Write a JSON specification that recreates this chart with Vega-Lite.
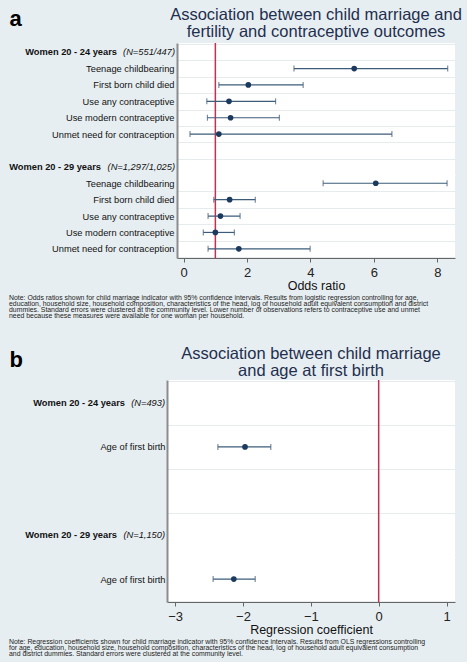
{
  "$schema": "https://vega.github.io/schema/vega-lite/v6.json",
  "background": "#e7eef1",
  "padding": {"left": 9, "top": 6, "right": 5, "bottom": 5},
  "config": {"font": "Liberation Sans", "view": {"stroke": null}},
  "datasets": {
    "fertility": [
      {"row": "a01|Women 20 - 24 years", "group": "Women 20 - 24 years", "n": "(N=551/447)"},
      {"row": "a02|Teenage childbearing", "or": 5.38, "lo": 3.48, "hi": 8.33},
      {"row": "a03|First born child died", "or": 2.04, "lo": 1.11, "hi": 3.77},
      {"row": "a04|Use any contraceptive", "or": 1.43, "lo": 0.73, "hi": 2.9},
      {"row": "a05|Use modern contraceptive", "or": 1.48, "lo": 0.75, "hi": 3.02},
      {"row": "a06|Unmet need for contraception", "or": 1.11, "lo": 0.2, "hi": 6.57},
      {"row": "a07|"},
      {"row": "a08|Women 20 - 29 years", "group": "Women 20 - 29 years", "n": "(N=1,297/1,025)"},
      {"row": "a09|Teenage childbearing", "or": 6.06, "lo": 4.4, "hi": 8.31},
      {"row": "a10|First born child died", "or": 1.45, "lo": 0.95, "hi": 2.26},
      {"row": "a11|Use any contraceptive", "or": 1.16, "lo": 0.77, "hi": 1.78},
      {"row": "a12|Use modern contraceptive", "or": 1.0, "lo": 0.62, "hi": 1.6},
      {"row": "a13|Unmet need for contraception", "or": 1.74, "lo": 0.77, "hi": 3.99}
    ],
    "birth": [
      {"row": "b01|Women 20 - 24 years", "group": "Women 20 - 24 years", "n": "(N=493)"},
      {"row": "b02|Age of first birth", "coef": -1.97, "lo": -2.37, "hi": -1.59},
      {"row": "b03|"},
      {"row": "b04|Women 20 - 29 years", "group": "Women 20 - 29 years", "n": "(N=1,150)"},
      {"row": "b05|Age of first birth", "coef": -2.135, "lo": -2.44, "hi": -1.82}
    ]
  },
  "vconcat": [
    {
      "title": {
        "text": [
          "Note: Odds ratios shown for child marriage indicator with 95% confidence intervals. Results from logistic regression controlling for age,",
          "education, household size, household composition, characteristics of the head, log of household adult equivalent consumption and district",
          "dummies. Standard errors were clustered at the community level. Lower number of observations refers to contraceptive use and unmet",
          "need because these measures were available for one woman per household."
        ],
        "orient": "bottom", "anchor": "start", "frame": "bounds", "fontSize": 6.9, "fontWeight": "normal", "lineHeight": 6.1, "color": "#222", "offset": 3
      },
      "spacing": -159,
      "hconcat": [
        {
          "width": 1,
          "height": 1,
          "data": {"values": [{"k": 1}]},
          "mark": {"type": "text", "opacity": 0},
          "encoding": {"text": {"value": " "}},
          "view": {"fill": null, "stroke": null}
        },
        {
          "width": 278,
          "height": 215,
          "view": {"fill": "white", "stroke": null},
          "title": {
            "text": ["Association between child marriage and", "fertility and contraceptive outcomes"],
            "fontSize": 16.5, "fontWeight": "normal", "color": "#1f2f4f",
            "anchor": "middle", "frame": "group", "lineHeight": 17, "offset": -33
          },
          "layer": [
            {
              "data": {"values": [{"ref": 1}]},
              "mark": {"type": "rule", "color": "#c4304f", "strokeWidth": 1.5},
              "encoding": {
                "x": {"field": "ref", "type": "quantitative", "scale": {"domain": [-0.21, 8.56], "nice": false, "zero": false}}
              }
            },
            {
              "data": {"name": "fertility"},
              "mark": {"type": "text", "opacity": 0},
              "encoding": {
                "y": {"field": "row", "type": "nominal"},
                "text": {"value": ""}
              }
            },
            {
              "data": {"name": "fertility"},
              "mark": {"type": "rule", "color": "#3d5c7a", "strokeWidth": 1.2},
              "encoding": {
                "y": {
                  "field": "row", "type": "nominal",
                  "scale": {"type": "band", "paddingInner": 0, "paddingOuter": 0.06},
                  "axis": {
                    "title": "a", "titleAngle": 0, "titleFontSize": 22, "titleFontWeight": "bold",
                    "titleAlign": "left", "titleBaseline": "alphabetic", "titleX": -168, "titleY": -18, "titleColor": "black",
                    "labelExpr": "isString(datum.value) && !test(/Women/, datum.value) ? slice(datum.value, 4) : ''",
                    "labelFontSize": 9.3, "labelColor": "#111", "labelBaseline": "middle", "labelPadding": 3,
                    "ticks": false, "tickSize": 0,
                    "domainColor": "#8c8c8c", "domainWidth": 2,
                    "grid": true, "tickBand": "extent",
                    "gridColor": {"condition": {"test": "isString(datum.value) && test(/29 years/, datum.value)", "value": "white"}, "value": "#e6ebee"}
                  }
                },
                "x": {"field": "lo", "type": "quantitative", "scale": {"domain": [-0.21, 8.56], "nice": false, "zero": false},
                  "axis": {"values": [0, 2, 4, 6, 8], "format": ".0f", "title": "Odds ratio", "titleFontSize": 12.5, "titleFontWeight": "normal", "titleColor": "#111",
                    "titlePadding": 0, "labelFontSize": 13, "labelColor": "#222", "labelPadding": 4, "tickSize": 4, "tickColor": "#666", "domainColor": "#666", "grid": false}},
                "x2": {"field": "hi"}
              }
            },
            {
              "data": {"name": "fertility"},
              "mark": {"type": "tick", "color": "#3d5c7a", "size": 6, "thickness": 1.2, "orient": "vertical"},
              "encoding": {
                "y": {"field": "row", "type": "nominal"},
                "x": {"field": "lo", "type": "quantitative", "scale": {"domain": [-0.21, 8.56], "nice": false, "zero": false}}
              }
            },
            {
              "data": {"name": "fertility"},
              "mark": {"type": "tick", "color": "#3d5c7a", "size": 6, "thickness": 1.2, "orient": "vertical"},
              "encoding": {
                "y": {"field": "row", "type": "nominal"},
                "x": {"field": "hi", "type": "quantitative", "scale": {"domain": [-0.21, 8.56], "nice": false, "zero": false}}
              }
            },
            {
              "data": {"name": "fertility"},
              "mark": {"type": "point", "filled": true, "size": 32, "color": "#1b3a5e", "opacity": 1},
              "encoding": {
                "y": {"field": "row", "type": "nominal"},
                "x": {"field": "or", "type": "quantitative", "scale": {"domain": [-0.21, 8.56], "nice": false, "zero": false}}
              }
            },
            {
              "data": {"name": "fertility"},
              "transform": [{"filter": "isValid(datum.n)"}],
              "mark": {"type": "text", "fontStyle": "italic", "fontSize": 9.3, "align": "right", "baseline": "middle", "dx": -2, "color": "#111"},
              "encoding": {
                "y": {"field": "row", "type": "nominal"},
                "x": {"datum": -0.21, "type": "quantitative", "scale": {"domain": [-0.21, 8.56], "nice": false, "zero": false}},
                "text": {"field": "n"}
              }
            },
            {
              "data": {"name": "fertility"},
              "transform": [{"filter": "test(/24 years/, datum.row)"}],
              "mark": {"type": "text", "fontWeight": "bold", "fontSize": 9.3, "align": "right", "baseline": "middle", "dx": -60, "color": "#111"},
              "encoding": {
                "y": {"field": "row", "type": "nominal"},
                "x": {"datum": -0.21, "type": "quantitative", "scale": {"domain": [-0.21, 8.56], "nice": false, "zero": false}},
                "text": {"field": "group"}
              }
            },
            {
              "data": {"name": "fertility"},
              "transform": [{"filter": "test(/29 years/, datum.row)"}],
              "mark": {"type": "text", "fontWeight": "bold", "fontSize": 9.3, "align": "right", "baseline": "middle", "dx": -76, "color": "#111"},
              "encoding": {
                "y": {"field": "row", "type": "nominal"},
                "x": {"datum": -0.21, "type": "quantitative", "scale": {"domain": [-0.21, 8.56], "nice": false, "zero": false}},
                "text": {"field": "group"}
              }
            }
          ]
        }
      ]
    },
    {
      "title": {
        "text": [
          "Note: Regression coefficients shown for child marriage indicator with 95% confidence intervals. Results from OLS regressions controlling",
          "for age, education, household size, household composition, characteristics of the head, log of household adult equivalent consumption",
          "and district dummies. Standard errors were clustered at the community level."
        ],
        "orient": "bottom", "anchor": "start", "frame": "bounds", "fontSize": 6.9, "fontWeight": "normal", "lineHeight": 6.1, "color": "#222", "offset": 3
      },
      "vconcat": [
        {
          "width": 288,
          "height": 222,
          "view": {"fill": "white", "stroke": null},
          "title": {
            "text": ["Association between child marriage", "and age at first birth"],
            "fontSize": 16.5, "fontWeight": "normal", "color": "#1f2f4f",
            "anchor": "middle", "frame": "group", "lineHeight": 17, "offset": -31
          },
          "layer": [
            {
              "data": {"values": [{"ref": 0}]},
              "mark": {"type": "rule", "color": "#c4304f", "strokeWidth": 1.5},
              "encoding": {
                "x": {"field": "ref", "type": "quantitative", "scale": {"domain": [-3.12, 1.125], "nice": false, "zero": false}}
              }
            },
            {
              "data": {"name": "birth"},
              "mark": {"type": "text", "opacity": 0},
              "encoding": {
                "y": {"field": "row", "type": "nominal"},
                "text": {"value": ""}
              }
            },
            {
              "data": {"name": "birth"},
              "mark": {"type": "rule", "color": "#3d5c7a", "strokeWidth": 1.2},
              "encoding": {
                "y": {
                  "field": "row", "type": "nominal",
                  "scale": {"type": "band", "paddingInner": 0, "paddingOuter": 0.02},
                  "axis": {
                    "title": "b", "titleAngle": 0, "titleFontSize": 22, "titleFontWeight": "bold",
                    "titleAlign": "left", "titleBaseline": "alphabetic", "titleX": -158, "titleY": -14, "titleColor": "black",
                    "labelExpr": "isString(datum.value) && !test(/Women/, datum.value) ? slice(datum.value, 4) : ''",
                    "labelFontSize": 9.3, "labelColor": "#111", "labelBaseline": "middle", "labelPadding": 2,
                    "ticks": false, "tickSize": 0,
                    "domainColor": "#8c8c8c", "domainWidth": 2,
                    "grid": true, "tickBand": "extent",
                    "gridColor": {"condition": {"test": "isString(datum.value) && test(/29 years/, datum.value)", "value": "white"}, "value": "#e6ebee"}
                  }
                },
                "x": {"field": "lo", "type": "quantitative", "scale": {"domain": [-3.12, 1.125], "nice": false, "zero": false},
                  "axis": {"values": [-3, -2, -1, 0, 1], "format": ".0f", "title": "Regression coefficient", "titleFontSize": 12.5, "titleFontWeight": "normal", "titleColor": "#111",
                    "titlePadding": 0, "labelFontSize": 13, "labelColor": "#222", "labelPadding": 4, "tickSize": 4, "tickColor": "#666", "domainColor": "#666", "grid": false}},
                "x2": {"field": "hi"}
              }
            },
            {
              "data": {"name": "birth"},
              "mark": {"type": "tick", "color": "#3d5c7a", "size": 6, "thickness": 1.2, "orient": "vertical"},
              "encoding": {
                "y": {"field": "row", "type": "nominal"},
                "x": {"field": "lo", "type": "quantitative", "scale": {"domain": [-3.12, 1.125], "nice": false, "zero": false}}
              }
            },
            {
              "data": {"name": "birth"},
              "mark": {"type": "tick", "color": "#3d5c7a", "size": 6, "thickness": 1.2, "orient": "vertical"},
              "encoding": {
                "y": {"field": "row", "type": "nominal"},
                "x": {"field": "hi", "type": "quantitative", "scale": {"domain": [-3.12, 1.125], "nice": false, "zero": false}}
              }
            },
            {
              "data": {"name": "birth"},
              "mark": {"type": "point", "filled": true, "size": 32, "color": "#1b3a5e", "opacity": 1},
              "encoding": {
                "y": {"field": "row", "type": "nominal"},
                "x": {"field": "coef", "type": "quantitative", "scale": {"domain": [-3.12, 1.125], "nice": false, "zero": false}}
              }
            },
            {
              "data": {"name": "birth"},
              "transform": [{"filter": "isValid(datum.n)"}],
              "mark": {"type": "text", "fontStyle": "italic", "fontSize": 9.3, "align": "right", "baseline": "middle", "dx": -2, "color": "#111"},
              "encoding": {
                "y": {"field": "row", "type": "nominal"},
                "x": {"datum": -3.12, "type": "quantitative", "scale": {"domain": [-3.12, 1.125], "nice": false, "zero": false}},
                "text": {"field": "n"}
              }
            },
            {
              "data": {"name": "birth"},
              "transform": [{"filter": "test(/24 years/, datum.row)"}],
              "mark": {"type": "text", "fontWeight": "bold", "fontSize": 9.3, "align": "right", "baseline": "middle", "dx": -42, "color": "#111"},
              "encoding": {
                "y": {"field": "row", "type": "nominal"},
                "x": {"datum": -3.12, "type": "quantitative", "scale": {"domain": [-3.12, 1.125], "nice": false, "zero": false}},
                "text": {"field": "group"}
              }
            },
            {
              "data": {"name": "birth"},
              "transform": [{"filter": "test(/29 years/, datum.row)"}],
              "mark": {"type": "text", "fontWeight": "bold", "fontSize": 9.3, "align": "right", "baseline": "middle", "dx": -50, "color": "#111"},
              "encoding": {
                "y": {"field": "row", "type": "nominal"},
                "x": {"datum": -3.12, "type": "quantitative", "scale": {"domain": [-3.12, 1.125], "nice": false, "zero": false}},
                "text": {"field": "group"}
              }
            }
          ]
        }
      ]
    }
  ],
  "spacing": 26
}
